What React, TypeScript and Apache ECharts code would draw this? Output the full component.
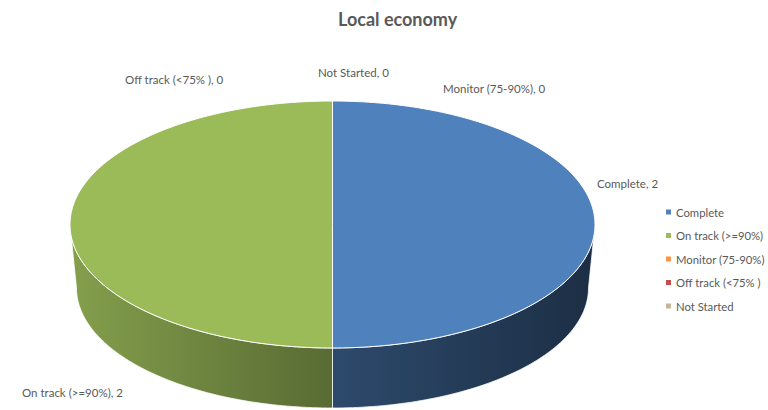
import React, { useEffect, useRef } from "react";
import * as echarts from "echarts";

const categories = ["Complete", "On track (>=90%)", "Monitor (75-90%)", "Off track (<75% )", "Not Started"];
const values = [2, 2, 0, 0, 0];
const colors = ["#4f81bd", "#9bbb59", "#f79646", "#c0504d", "#c4b69b"];
const chartTitle = "Local economy";

// geometry of the 3D pie (layout, not data)
const CX = 332.5;
const CY = 224.5;
const RX = 262.5;
const RY = 123.5;
const BCY = 288;
const BRX = 256;
const BRY = 120;

// label anchors (left x, middle y) per category, Excel's best-fit placement
const labelAnchors: [number, number][] = [
  [597, 183],
  [22, 392],
  [443, 88],
  [125, 79],
  [318, 72],
];

const FONT = "Lato, 'Open Sans', sans-serif";

function shade(hex: string, f: number) {
  const n = parseInt(hex.slice(1), 16);
  const r = Math.round(((n >> 16) & 255) * f);
  const g = Math.round(((n >> 8) & 255) * f);
  const b = Math.round((n & 255) * f);
  return `rgb(${r},${g},${b})`;
}

function topPt(deg: number): number[] {
  const t = (deg * Math.PI) / 180;
  return [CX + RX * Math.sin(t), CY - RY * Math.cos(t)];
}
function botPt(deg: number): number[] {
  const t = (deg * Math.PI) / 180;
  return [CX + BRX * Math.sin(t), BCY - BRY * Math.cos(t)];
}

function renderItem(params: any, api: any) {
  const i = params.dataIndex;
  const v = api.value(0);
  const total = values.reduce((a, b) => a + b, 0);
  let start = 0;
  for (let k = 0; k < i; k++) start += values[k];
  const a0 = (start / total) * 360;
  const a1 = ((start + v) / total) * 360;
  const children: any[] = [];
  if (v > 0) {
    const s0 = Math.max(a0, 90);
    const s1 = Math.min(a1, 270);
    if (s1 > s0) {
      const pts: number[][] = [];
      const N = 80;
      for (let j = 0; j <= N; j++) pts.push(topPt(s0 + ((s1 - s0) * j) / N));
      for (let j = N; j >= 0; j--) pts.push(botPt(s0 + ((s1 - s0) * j) / N));
      children.push({
        type: "polygon",
        shape: { points: pts },
        style: {
          fill: new echarts.graphic.LinearGradient(
            CX - RX,
            0,
            CX + RX,
            0,
            [
              { offset: 0, color: shade(colors[i], 0.85) },
              { offset: 0.5, color: shade(colors[i], 0.57) },
              { offset: 1, color: shade(colors[i], 0.36) },
            ],
            true
          ),
          stroke: "rgba(255,255,255,0.75)",
          lineWidth: 1,
        },
      });
    }
    const tp: number[][] = [[CX, CY]];
    const M = 160;
    for (let j = 0; j <= M; j++) tp.push(topPt(a0 + ((a1 - a0) * j) / M));
    children.push({
      type: "polygon",
      shape: { points: tp },
      style: { fill: colors[i], stroke: "#ffffff", lineWidth: 1 },
    });
  }
  const [lx, ly] = labelAnchors[i];
  children.push({
    type: "text",
    x: lx,
    y: ly,
    style: {
      text: `${categories[i]}, ${v}`,
      fill: "#595959",
      font: `11.5px ${FONT}`,
      verticalAlign: "middle",
      align: "left",
    },
  });
  return { type: "group", children };
}

export default function App() {
  const ref = useRef<HTMLDivElement>(null);
  useEffect(() => {
    if (!ref.current) return;
    const chart = echarts.init(ref.current, null, { renderer: "svg" });
    chart.setOption({
      animation: false,
      backgroundColor: "#ffffff",
      color: colors,
      title: {
        text: chartTitle,
        left: 333,
        top: 5,
        textStyle: { color: "#595959", fontSize: 18, fontWeight: "bold", fontFamily: FONT },
      },
      legend: {
        orient: "vertical",
        left: 666,
        top: 205,
        padding: 0,
        icon: "rect",
        itemWidth: 5,
        itemHeight: 5,
        itemGap: 9.5,
        data: categories,
        textStyle: { color: "#595959", fontSize: 11.3, fontFamily: FONT, lineHeight: 14 },
        selectedMode: false,
      },
      series: [
        {
          type: "custom",
          coordinateSystem: "none",
          renderItem,
          data: values.map((v) => [v]),
          silent: true,
          z: 2,
        },
        {
          type: "pie",
          radius: [0, 0],
          center: [CX, CY],
          silent: true,
          label: { show: false },
          labelLine: { show: false },
          stillShowZeroSum: true,
          data: categories.map((c, i) => ({ name: c, value: values[i], itemStyle: { color: colors[i] } })),
          z: 1,
        },
      ],
    });
    return () => chart.dispose();
  }, []);
  return (
    <div
      ref={ref}
      style={{ position: "absolute", left: 0, top: 0, width: 768, height: 410, background: "#fff" }}
    />
  );
}
